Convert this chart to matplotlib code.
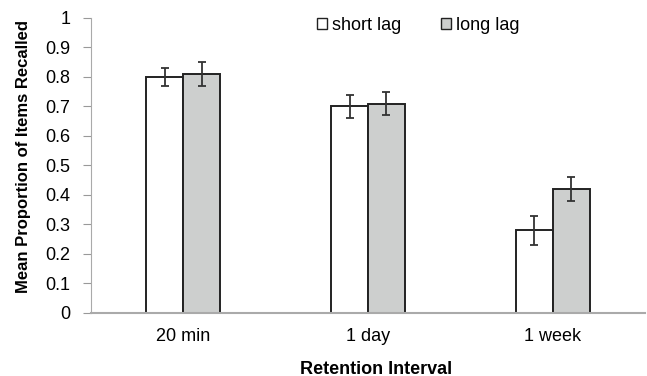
import matplotlib
matplotlib.use('Agg')
import matplotlib.pyplot as plt
import numpy as np
from matplotlib.patches import Patch

intervals = ['20 min', '1 day', '1 week']
short_lag = [0.80, 0.70, 0.28]
long_lag = [0.81, 0.71, 0.42]
short_err = [0.03, 0.04, 0.05]
long_err = [0.04, 0.04, 0.04]

plt.rcParams['font.family'] = ['Liberation Sans', 'DejaVu Sans']

fig = plt.figure(figsize=(6.47, 3.76), dpi=100)
ax = fig.add_axes([0.1406, 0.1676, 0.8564, 0.7846])

x = np.arange(len(intervals))
w = 0.2
ekw = dict(ecolor='#333333', elinewidth=1.3, capsize=3, capthick=1.3)
ax.bar(x - w/2, short_lag, w, color='white', edgecolor='#222222', linewidth=1.4,
       yerr=short_err, error_kw=ekw)
ax.bar(x + w/2, long_lag, w, color='#cdcfce', edgecolor='#222222', linewidth=1.4,
       yerr=long_err, error_kw=ekw)

ax.set_xlim(-0.5, 2.5)
ax.set_ylim(0, 1)
ax.set_yticks(np.arange(0, 1.01, 0.1))
ax.set_yticklabels(['0'] + ['%.1f' % v for v in np.arange(0.1, 0.95, 0.1)] + ['1'])
ax.set_xticks(x)
ax.set_xticklabels(intervals)
ax.tick_params(axis='x', length=0, labelsize=13, pad=11)
ax.tick_params(axis='y', length=6, color='#999999', labelsize=13, pad=9)
for s in ['top', 'right']:
    ax.spines[s].set_visible(False)
ax.spines['left'].set_color('#aaaaaa')
ax.spines['bottom'].set_color('#aaaaaa')
ax.spines['bottom'].set_linewidth(1.5)

ax.set_xlabel('Retention Interval', fontsize=13, fontweight='bold', labelpad=11)
ax.xaxis.label.set_x(0.514)
ax.set_ylabel('Mean Proportion of Items Recalled', fontsize=12, fontweight='bold', labelpad=10)
ax.yaxis.label.set_y(0.53)

handles = [Patch(facecolor='white', edgecolor='#222222', label='short lag'),
           Patch(facecolor='#cdcfce', edgecolor='#222222', label='long lag')]
fig.legend(handles=handles, loc='center left', bbox_to_anchor=(317/647, 1 - 25/376), ncol=2,
           frameon=False, fontsize=13, handlelength=0.55, handleheight=0.55,
           handletextpad=0.28, columnspacing=2.2, borderpad=0, borderaxespad=0)

fig.savefig('out.png', dpi=100)
